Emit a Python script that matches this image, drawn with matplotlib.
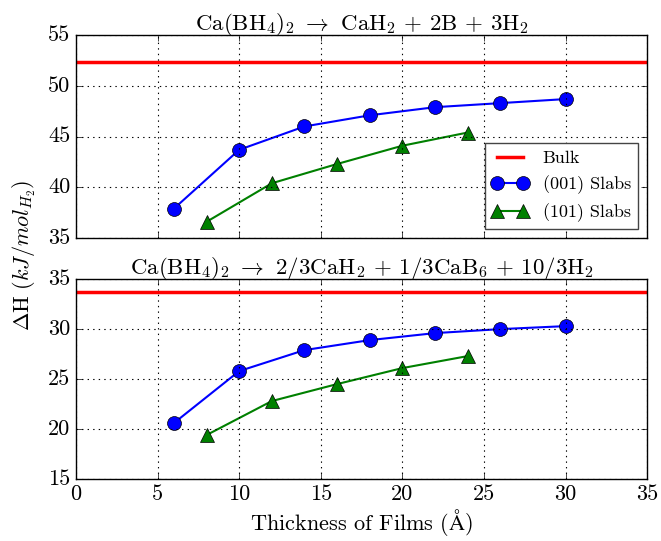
import numpy as np
import matplotlib
matplotlib.use("Agg")
import matplotlib.pyplot as plt

plt.style.use("classic")
plt.rcParams["font.family"] = "serif"
plt.rcParams["font.serif"] = ["cmr10"]
plt.rcParams["mathtext.fontset"] = "cm"
plt.rcParams["axes.unicode_minus"] = False

# thickness of films (Angstrom)
x_001 = [6, 10, 14, 18, 22, 26, 30]
x_101 = [8, 12, 16, 20, 24]

# reaction 1: Ca(BH4)2 -> CaH2 + 2B + 3H2
bulk_1 = 52.4
dh1_001 = [37.9, 43.7, 46.0, 47.1, 47.9, 48.3, 48.7]
dh1_101 = [36.6, 40.4, 42.3, 44.1, 45.4]

# reaction 2: Ca(BH4)2 -> 2/3CaH2 + 1/3CaB6 + 10/3H2
bulk_2 = 33.7
dh2_001 = [20.6, 25.8, 27.9, 28.9, 29.6, 30.0, 30.3]
dh2_101 = [19.4, 22.8, 24.5, 26.1, 27.3]

titles = [r"Ca(BH$_4$)$_2\ \rightarrow$ CaH$_2$ + 2B + 3H$_2$",
          r"Ca(BH$_4$)$_2\ \rightarrow$ 2/3CaH$_2$ + 1/3CaB$_6$ + 10/3H$_2$"]

fig = plt.figure(figsize=(6.61, 5.41), dpi=100, facecolor="white")
ax1 = fig.add_axes([0.115, 0.560, 0.864, 0.375])
ax2 = fig.add_axes([0.115, 0.1146, 0.864, 0.3694])


def draw(ax, bulk, y001, y101, title, ylim):
    ax.axhline(bulk, color="red", lw=2.5, label="Bulk")
    ax.plot(x_001, y001, "-o", color="blue", lw=1.5, ms=10,
            mfc="blue", mec="black", label="(001) Slabs")
    ax.plot(x_101, y101, "-^", color="green", lw=1.5, ms=10,
            mfc="green", mec="black", label="(101) Slabs")
    ax.set_xlim(0, 35)
    ax.set_ylim(*ylim)
    ax.set_yticks(np.arange(ylim[0], ylim[1] + 1, 5))
    ax.grid(True, color="black", linestyle=":", lw=0.8)
    ax.set_title(title, fontsize=16.5, pad=4)
    ax.tick_params(labelsize=16)


draw(ax1, bulk_1, dh1_001, dh1_101, titles[0], (35, 55))
draw(ax2, bulk_2, dh2_001, dh2_101, titles[1], (15, 35))
ax1.set_xticklabels([])
ax2.set_xlabel(r"Thickness of Films ($\mathrm{\AA}$)", fontsize=16,
               labelpad=2)

leg = ax1.legend(loc="lower right", numpoints=2, fontsize=13,
                 borderaxespad=0.5)
leg.get_frame().set_edgecolor("#444444")

fig.text(0.037, 0.529, r"$\Delta\mathrm{H}\ (kJ/mol_{H_2})$",
         rotation=90, va="center", ha="center", fontsize=16)

fig.savefig("out.png", dpi=100, facecolor="white")
